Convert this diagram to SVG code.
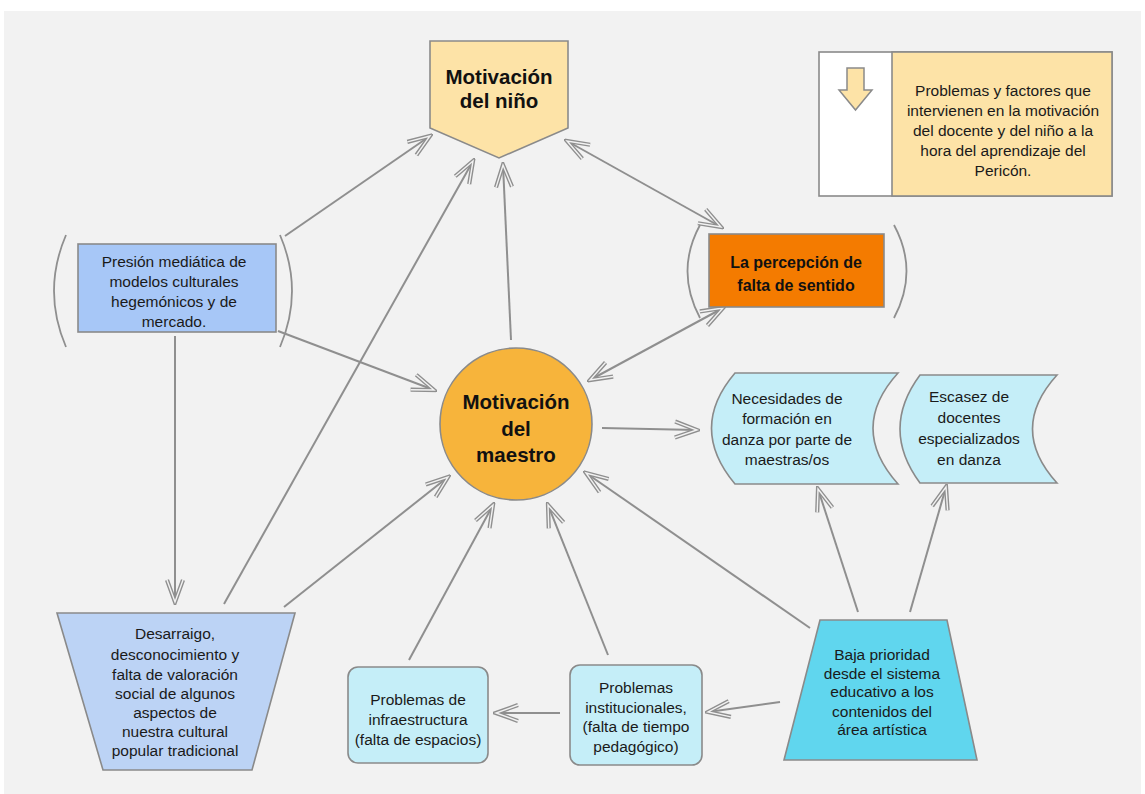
<svg xmlns="http://www.w3.org/2000/svg" width="1145" height="794" viewBox="0 0 1145 794">
  <style>
    .t { font-family: "Liberation Sans", Arial, sans-serif; font-size: 15.5px; fill: #1a1a1a; text-anchor: middle; }
    .b { font-family: "Liberation Sans", Arial, sans-serif; font-weight: bold; fill: #111; text-anchor: middle; }
    .shape { stroke: #8a8a8a; stroke-width: 1.6; }
    .conn { fill: none; stroke: #8f8f8f; stroke-width: 2; }
    .paren { fill: none; stroke: #8f8f8f; stroke-width: 1.8; }
  </style>
  <defs>
    <!-- hollow chevron arrowhead -->
    <marker id="head" viewBox="0 0 28 22" refX="25" refY="11" markerWidth="28" markerHeight="22" markerUnits="userSpaceOnUse" orient="auto-start-reverse">
      <path d="M3,3 L25,11 L3,19" fill="none" stroke="#8f8f8f" stroke-width="4.2" stroke-linejoin="miter" stroke-miterlimit="10"/>
      <path d="M3,3 L25,11 L3,19" fill="none" stroke="#f2f2f2" stroke-width="1.4" stroke-linejoin="miter" stroke-miterlimit="10"/>
    </marker>
  </defs>

  <!-- page background -->
  <rect x="0" y="0" width="1145" height="794" fill="#ffffff"/>
  <rect x="4" y="11" width="1137" height="783" fill="#f2f2f2"/>

  <!-- connectors -->
  <g id="connectors">
    <line class="conn" x1="285" y1="236" x2="430" y2="136" marker-end="url(#head)"/>
    <line class="conn" x1="224" y1="604" x2="473" y2="161" marker-end="url(#head)"/>
    <line class="conn" x1="511" y1="340" x2="503" y2="165" marker-end="url(#head)"/>
    <line class="conn" x1="567" y1="141" x2="721" y2="227" marker-start="url(#head)" marker-end="url(#head)"/>
    <line class="conn" x1="723" y1="308" x2="590" y2="380" marker-start="url(#head)" marker-end="url(#head)"/>
    <line class="conn" x1="278" y1="331" x2="434" y2="390" marker-end="url(#head)"/>
    <line class="conn" x1="175" y1="336" x2="175" y2="602" marker-end="url(#head)"/>
    <line class="conn" x1="284" y1="607" x2="448" y2="477" marker-end="url(#head)"/>
    <line class="conn" x1="409" y1="660" x2="493" y2="505" marker-end="url(#head)"/>
    <line class="conn" x1="608" y1="655" x2="548" y2="505" marker-end="url(#head)"/>
    <line class="conn" x1="810" y1="628" x2="586" y2="473" marker-end="url(#head)"/>
    <line class="conn" x1="602" y1="428" x2="697" y2="430" marker-end="url(#head)"/>
    <line class="conn" x1="858" y1="612" x2="818" y2="489" marker-end="url(#head)"/>
    <line class="conn" x1="910" y1="612" x2="946" y2="487" marker-end="url(#head)"/>
    <line class="conn" x1="780" y1="702" x2="708" y2="712" marker-end="url(#head)"/>
    <line class="conn" x1="560" y1="713" x2="496" y2="713" marker-end="url(#head)"/>
  </g>

  <!-- Motivación del niño -->
  <g id="nino">
    <path class="shape" d="M430,41 H568 V128 L499,158 L430,128 Z" fill="#fde3a7"/>
    <text class="b" x="499" y="84" font-size="20.5">Motivación</text>
    <text class="b" x="499" y="108" font-size="20.5">del niño</text>
  </g>

  <!-- legend -->
  <g id="legend">
    <rect class="shape" x="819" y="52" width="293" height="144" fill="#ffffff"/>
    <rect class="shape" x="892" y="52" width="220" height="144" fill="#fde3a7"/>
    <path d="M847,68 H864 V90 H872 L855.5,110 L839,90 H847 Z" fill="#fde3a7" stroke="#8a8a8a" stroke-width="1.5"/>
    <text class="t" x="1003" y="96" font-size="14">Problemas y factores que</text>
    <text class="t" x="1003" y="116" font-size="14">intervienen en la motivación</text>
    <text class="t" x="1003" y="136" font-size="14">del docente y del niño a la</text>
    <text class="t" x="1003" y="156" font-size="14">hora del aprendizaje del</text>
    <text class="t" x="1003" y="176" font-size="14">Pericón.</text>
  </g>

  <!-- Presión mediática -->
  <g id="presion">
    <path class="paren" d="M66,235 Q42,291 66,347"/>
    <path class="paren" d="M280,235 Q304,291 280,347"/>
    <rect class="shape" x="78" y="244" width="198" height="88" fill="#a7c7f7"/>
    <text class="t" x="174" y="267" font-size="16">Presión mediática de</text>
    <text class="t" x="174" y="287" font-size="16">modelos culturales</text>
    <text class="t" x="174" y="307" font-size="16">hegemónicos y de</text>
    <text class="t" x="174" y="327" font-size="16">mercado.</text>
  </g>

  <!-- La percepción de falta de sentido -->
  <g id="percepcion">
    <path class="paren" d="M700,225 Q675,271 700,318"/>
    <path class="paren" d="M894,225 Q919,271 894,318"/>
    <rect class="shape" x="709" y="234" width="175" height="73" fill="#f47b00"/>
    <text class="b" x="796" y="268" font-size="16">La percepción de</text>
    <text class="b" x="796" y="291" font-size="16">falta de sentido</text>
  </g>

  <!-- Motivación del maestro -->
  <g id="maestro">
    <circle class="shape" cx="516" cy="424" r="76" fill="#f7b43b"/>
    <text class="b" x="516" y="409" font-size="20.5">Motivación</text>
    <text class="b" x="516" y="436" font-size="20.5">del</text>
    <text class="b" x="516" y="462" font-size="20.5">maestro</text>
  </g>

  <!-- Necesidades de formación -->
  <g id="necesidades">
    <path class="shape" d="M735,373 H898 Q848,428 898,484 H735 Q688,428 735,373 Z" fill="#c5eef8"/>
    <text class="t" x="787" y="404">Necesidades de</text>
    <text class="t" x="787" y="424">formación en</text>
    <text class="t" x="787" y="445">danza por parte de</text>
    <text class="t" x="787" y="465">maestras/os</text>
  </g>

  <!-- Escasez de docentes -->
  <g id="escasez">
    <path class="shape" d="M920,375 H1057 Q1008,429 1057,483 H920 Q880,429 920,375 Z" fill="#c5eef8"/>
    <text class="t" x="969" y="402">Escasez de</text>
    <text class="t" x="969" y="423">docentes</text>
    <text class="t" x="969" y="444">especializados</text>
    <text class="t" x="969" y="465">en danza</text>
  </g>

  <!-- Desarraigo -->
  <g id="desarraigo">
    <path class="shape" d="M57,613 H295 L252,770 H103 Z" fill="#bcd3f5"/>
    <text class="t" x="175" y="639" font-size="16">Desarraigo,</text>
    <text class="t" x="175" y="660" font-size="16">desconocimiento y</text>
    <text class="t" x="175" y="680" font-size="16">falta de valoración</text>
    <text class="t" x="175" y="699" font-size="16">social de algunos</text>
    <text class="t" x="175" y="718" font-size="16">aspectos de</text>
    <text class="t" x="175" y="737" font-size="16">nuestra cultural</text>
    <text class="t" x="175" y="756" font-size="16">popular tradicional</text>
  </g>

  <!-- Problemas de infraestructura -->
  <g id="infraestructura">
    <rect class="shape" x="348" y="667" width="140" height="96" rx="10" fill="#c5eef8"/>
    <text class="t" x="418" y="705" font-size="16">Problemas de</text>
    <text class="t" x="418" y="725" font-size="16">infraestructura</text>
    <text class="t" x="418" y="745" font-size="16">(falta de espacios)</text>
  </g>

  <!-- Problemas institucionales -->
  <g id="institucionales">
    <rect class="shape" x="570" y="665" width="132" height="100" rx="10" fill="#c5eef8"/>
    <text class="t" x="636" y="693">Problemas</text>
    <text class="t" x="636" y="713">institucionales,</text>
    <text class="t" x="636" y="732">(falta de tiempo</text>
    <text class="t" x="636" y="752">pedagógico)</text>
  </g>

  <!-- Baja prioridad -->
  <g id="baja">
    <path class="shape" d="M820,620 H947 L977,760 H784 Z" fill="#60d6ee"/>
    <text class="t" x="882" y="660">Baja prioridad</text>
    <text class="t" x="882" y="679">desde el sistema</text>
    <text class="t" x="882" y="697">educativo a los</text>
    <text class="t" x="882" y="717">contenidos del</text>
    <text class="t" x="882" y="735">área artística</text>
  </g>
</svg>
